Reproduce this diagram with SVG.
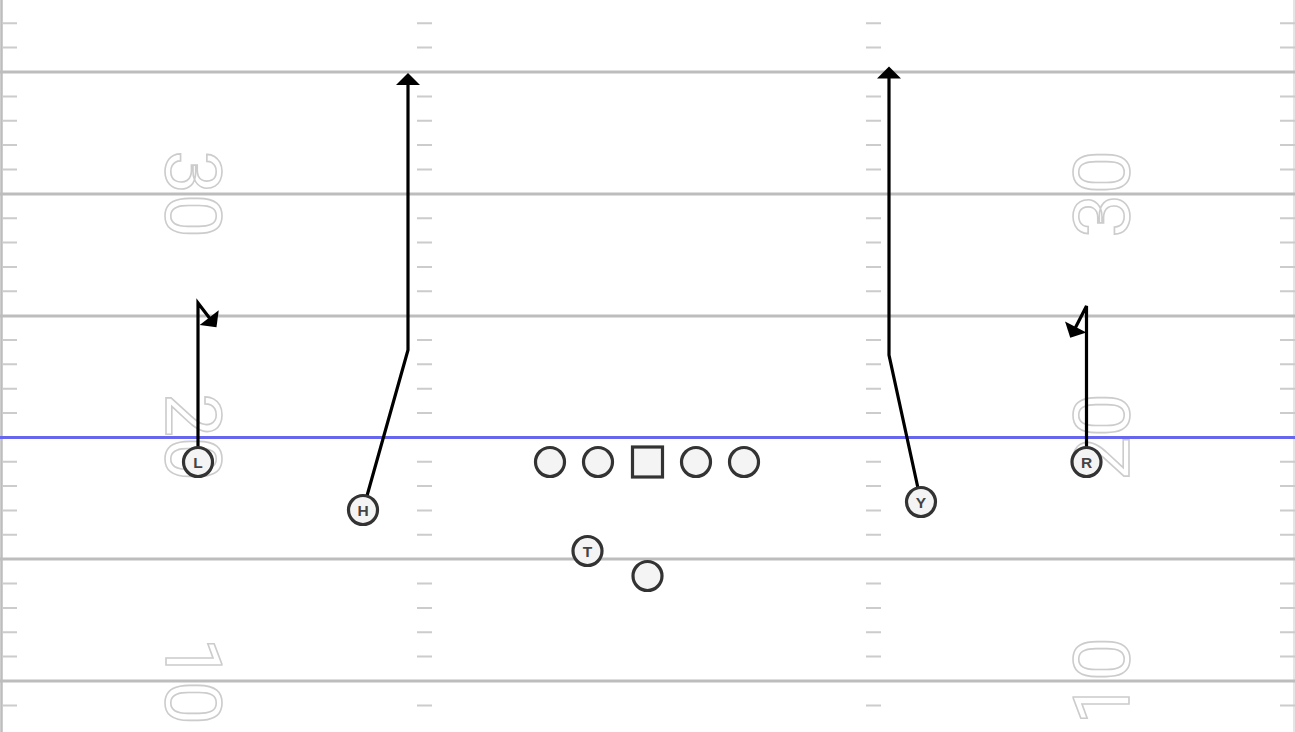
<svg xmlns="http://www.w3.org/2000/svg" xmlns:xlink="http://www.w3.org/1999/xlink" width="1295" height="732" viewBox="0 0 1295 732">
<style>
.yard{stroke:#bdbdbd;stroke-width:3;fill:none}
.tick{stroke:#cccccc;stroke-width:2;fill:none}
.num{font-family:Roboto,"Liberation Sans",Arial,sans-serif;font-size:78px;fill:#ffffff;stroke:#cccccc;stroke-width:1.6;text-anchor:middle}
.route{stroke:#000;stroke-width:3.2;fill:none;stroke-linejoin:miter}
.player{fill:#f4f4f4;stroke:#333;stroke-width:3.2}
.lbl{font-family:"Liberation Sans",Arial,sans-serif;font-size:15.5px;font-weight:bold;fill:#444;text-anchor:middle}
</style>
<defs>
<path id="ticks" class="tick" d="M0,23.3h15M0,47.6h15M0,96.4h15M0,120.7h15M0,145.1h15M0,169.4h15M0,218.2h15M0,242.5h15M0,266.9h15M0,291.2h15M0,340h15M0,364.3h15M0,388.7h15M0,413h15M0,461.8h15M0,486.1h15M0,510.5h15M0,534.8h15M0,583.6h15M0,607.9h15M0,632.3h15M0,656.6h15M0,705.4h15"/>
<marker id="arr" markerUnits="userSpaceOnUse" markerWidth="26" markerHeight="26" viewBox="0 -13 13 26" refX="0.5" refY="0" orient="auto">
<path d="M0,-12 L12,0 L0,12 Z" fill="#000"/>
</marker>
</defs>
<rect x="0" y="0" width="1295" height="732" fill="#ffffff"/>
<g id="field">
<line x1="1.5" y1="0" x2="1.5" y2="732" stroke="#bdbdbd" stroke-width="2.5"/>
<line x1="1294" y1="0" x2="1294" y2="732" stroke="#dddddd" stroke-width="1.5"/>
<use xlink:href="#ticks" x="2"/>
<use xlink:href="#ticks" x="417"/>
<use xlink:href="#ticks" x="866"/>
<use xlink:href="#ticks" x="1280"/>
<line class="yard" x1="0" y1="72" x2="1295" y2="72"/>
<line class="yard" x1="0" y1="194" x2="1295" y2="194"/>
<line class="yard" x1="0" y1="316" x2="1295" y2="316"/>
<line class="yard" x1="0" y1="559" x2="1295" y2="559"/>
<line class="yard" x1="0" y1="681" x2="1295" y2="681"/>
<text class="num" transform="translate(166,194) rotate(90)">30</text>
<text class="num" transform="translate(166,437) rotate(90)">20</text>
<text class="num" transform="translate(166,681) rotate(90)">10</text>
<text class="num" transform="translate(1129,194) rotate(-90)">30</text>
<text class="num" transform="translate(1129,437) rotate(-90)">20</text>
<text class="num" transform="translate(1129,681) rotate(-90)">10</text>
<line x1="0" y1="437.5" x2="1295" y2="437.5" stroke="#6666ee" stroke-width="3"/>
</g>
<g id="connectors">
<path class="route" d="M198,462 V303 L209.5,318" marker-end="url(#arr)"/>
<path class="route" d="M363,510 L408,350 V84.5" marker-end="url(#arr)"/>
<path class="route" d="M921,502 L889,355 V78" marker-end="url(#arr)"/>
<path class="route" d="M1086.5,462 V306 L1075.5,327.5" marker-end="url(#arr)"/>
</g>
<g id="node-L"><circle class="player" cx="198" cy="462" r="14.5"/><text class="lbl" x="198" y="467.5">L</text></g>
<g id="node-H"><circle class="player" cx="363" cy="510" r="14.5"/><text class="lbl" x="363" y="515.5">H</text></g>
<g id="node-LT"><circle class="player" cx="550" cy="462" r="14.5"/></g>
<g id="node-LG"><circle class="player" cx="598" cy="462" r="14.5"/></g>
<g id="node-C"><rect class="player" x="632.5" y="447" width="30" height="30"/></g>
<g id="node-RG"><circle class="player" cx="696" cy="462" r="14.5"/></g>
<g id="node-RT"><circle class="player" cx="744" cy="462" r="14.5"/></g>
<g id="node-T"><circle class="player" cx="587.5" cy="551" r="14.5"/><text class="lbl" x="587.5" y="556.5">T</text></g>
<g id="node-QB"><circle class="player" cx="647.5" cy="576" r="14.5"/></g>
<g id="node-Y"><circle class="player" cx="921" cy="502" r="14.5"/><text class="lbl" x="921" y="507.5">Y</text></g>
<g id="node-R"><circle class="player" cx="1086.5" cy="462" r="14.5"/><text class="lbl" x="1086.5" y="467.5">R</text></g>
</svg>
